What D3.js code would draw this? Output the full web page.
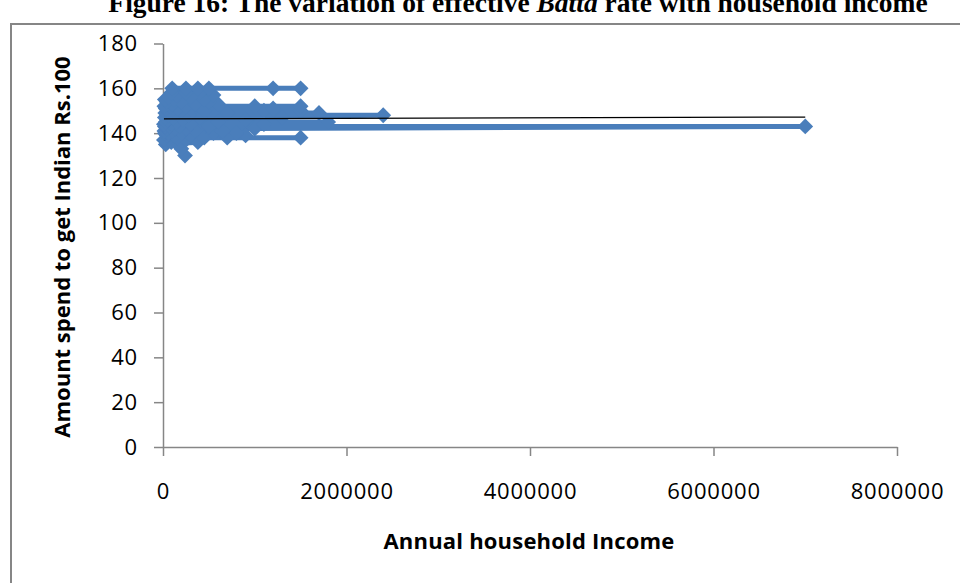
<!DOCTYPE html>
<html>
<head>
<meta charset="utf-8">
<script src="https://cdn.jsdelivr.net/npm/d3@7"></script>
<style>
  html, body { margin: 0; padding: 0; background: #fff; }
  svg { display: block; }
</style>
</head>
<body>
<div id="chart"></div>
<script>
// Survey responses, listed in order of the amount spent (Rs. paid per Indian Rs.100)
const income = [
  240000,
  200000,
  160000, 30000,
  380000, 90000,
  250000, 10000,
  450000, 1500000, 700000, 150000,
  40000, 300000, 900000, 120000,
  20000, 550000, 200000, 800000, 60000,
  350000, 100000, 650000, 15000,
  250000, 1000000, 130000, 40000,
  7000000, 20000, 180000, 500000, 70000,
  300000, 1100000, 90000, 10000,
  1800000, 150000, 600000, 30000,
  220000, 900000, 50000,
  400000, 1300000, 110000, 20000,
  2400000, 60000, 280000,
  1700000, 140000, 700000, 25000,
  1100000, 1500000, 200000, 50000, 450000, 90000,
  30000, 300000, 1200000, 160000,
  1500000, 80000, 1000000, 250000, 15000,
  350000, 100000, 600000,
  40000, 200000, 500000,
  120000, 450000, 20000,
  300000, 60000,
  550000, 150000,
  90000, 400000, 250000,
  100000, 250000, 380000, 500000, 1200000, 1500000
];
const amount = [
  130,
  133,
  135, 135,
  136, 136,
  137, 137,
  138, 138, 138, 138,
  139, 139, 139, 139,
  140, 140, 140, 140, 140,
  141, 141, 141, 141,
  142, 142, 142, 142,
  143, 143, 143, 143, 143,
  144, 144, 144, 144,
  145, 145, 145, 145,
  146, 146, 146,
  147, 147, 147, 147,
  148, 148, 148,
  149, 149, 149, 149,
  150, 150, 150, 150, 150, 150,
  151, 151, 151, 151,
  152, 152, 152, 152, 152,
  153, 153, 153,
  154, 154, 154,
  155, 155, 155,
  156, 156,
  157, 157,
  158, 158, 158,
  160, 160, 160, 160, 160, 160
];

// Linear trend line end points
const trendIncome = [10000, 7000000];
const trendAmount = [146.4, 147.2];

const xTicks = [0, 2000000, 4000000, 6000000, 8000000];
const yTicks = [0, 20, 40, 60, 80, 100, 120, 140, 160, 180];

const chartTitle = "Figure 16: The variation of effective ";
const chartTitleItalic = "Batta";
const chartTitleEnd = " rate with household income";
const xTitle = "Annual household Income";
const yTitle = "Amount spend to get Indian Rs.100";

const W = 960, H = 583;
const svg = d3.select("#chart").append("svg").attr("width", W).attr("height", H);

const x = d3.scaleLinear().domain([0, 8000000]).range([163, 897]);
const y = d3.scaleLinear().domain([0, 180]).range([447, 43.5]);

const axisColor = "#868686";
const blue = "#4a7ebb";
const tickFont = "'Open Sans', sans-serif";

// Caption (runs off the top edge of the page)
const t = svg.append("text")
  .attr("x", 518).attr("y", 12)
  .attr("text-anchor", "middle")
  .style("font-family", "'Liberation Serif', 'Times New Roman', serif")
  .style("font-weight", "bold")
  .style("font-size", "27.5px")
  .attr("fill", "#000");
t.append("tspan").text(chartTitle);
t.append("tspan").style("font-style", "italic").text(chartTitleItalic);
t.append("tspan").text(chartTitleEnd);

// Chart frame
svg.append("path")
  .attr("d", `M11,${H} L11,24 L${W},24`)
  .attr("fill", "none")
  .attr("stroke", axisColor)
  .attr("stroke-width", 2);

// Y axis
const yAxis = svg.append("g")
  .attr("transform", `translate(${x(0)},0)`)
  .call(d3.axisLeft(y).tickValues(yTicks).tickFormat(d3.format("d"))
    .tickSize(9).tickSizeOuter(0).tickPadding(16));

// X axis
const xAxis = svg.append("g")
  .attr("transform", `translate(0,${y(0)})`)
  .call(d3.axisBottom(x).tickValues(xTicks).tickFormat(d3.format("d"))
    .tickSize(9).tickSizeOuter(0).tickPadding(27));

[yAxis, xAxis].forEach(g => {
  g.select(".domain").attr("stroke", axisColor).attr("stroke-width", 1.5);
  g.selectAll(".tick line").attr("stroke", axisColor).attr("stroke-width", 1.5);
  g.selectAll(".tick text")
    .attr("fill", "#000")
    .style("font-family", tickFont)
    .style("font-size", "22px")
    .style("letter-spacing", "0.8px");
});

// Series line, joined in listed order
const pts = income.map((v, i) => [v, amount[i]]);
const line = d3.line().x(d => x(d[0])).y(d => y(d[1]));

svg.append("path")
  .datum(pts)
  .attr("d", line)
  .attr("fill", "none")
  .attr("stroke", blue)
  .attr("stroke-width", 5)
  .attr("stroke-linejoin", "round");

// Diamond markers
const diamond = d3.symbol().type(d3.symbolSquare).size(125);
svg.append("g").selectAll("path")
  .data(pts)
  .join("path")
  .attr("d", diamond)
  .attr("transform", d => `translate(${x(d[0])},${y(d[1])}) rotate(45)`)
  .attr("fill", blue);

// Linear trend
svg.append("path")
  .datum(trendIncome.map((v, i) => [v, trendAmount[i]]))
  .attr("d", line)
  .attr("fill", "none")
  .attr("stroke", "#000")
  .attr("stroke-width", 1.3);

// Axis titles
svg.append("text")
  .attr("x", 529).attr("y", 549)
  .attr("text-anchor", "middle")
  .style("font-family", tickFont)
  .style("font-weight", "bold")
  .style("font-size", "22px")
  .style("letter-spacing", "0.2px")
  .text(xTitle);

svg.append("text")
  .attr("transform", "translate(70,247) rotate(-90)")
  .attr("text-anchor", "middle")
  .style("font-family", tickFont)
  .style("font-weight", "bold")
  .style("font-size", "22px")
  .text(yTitle);
</script>
</body>
</html>
